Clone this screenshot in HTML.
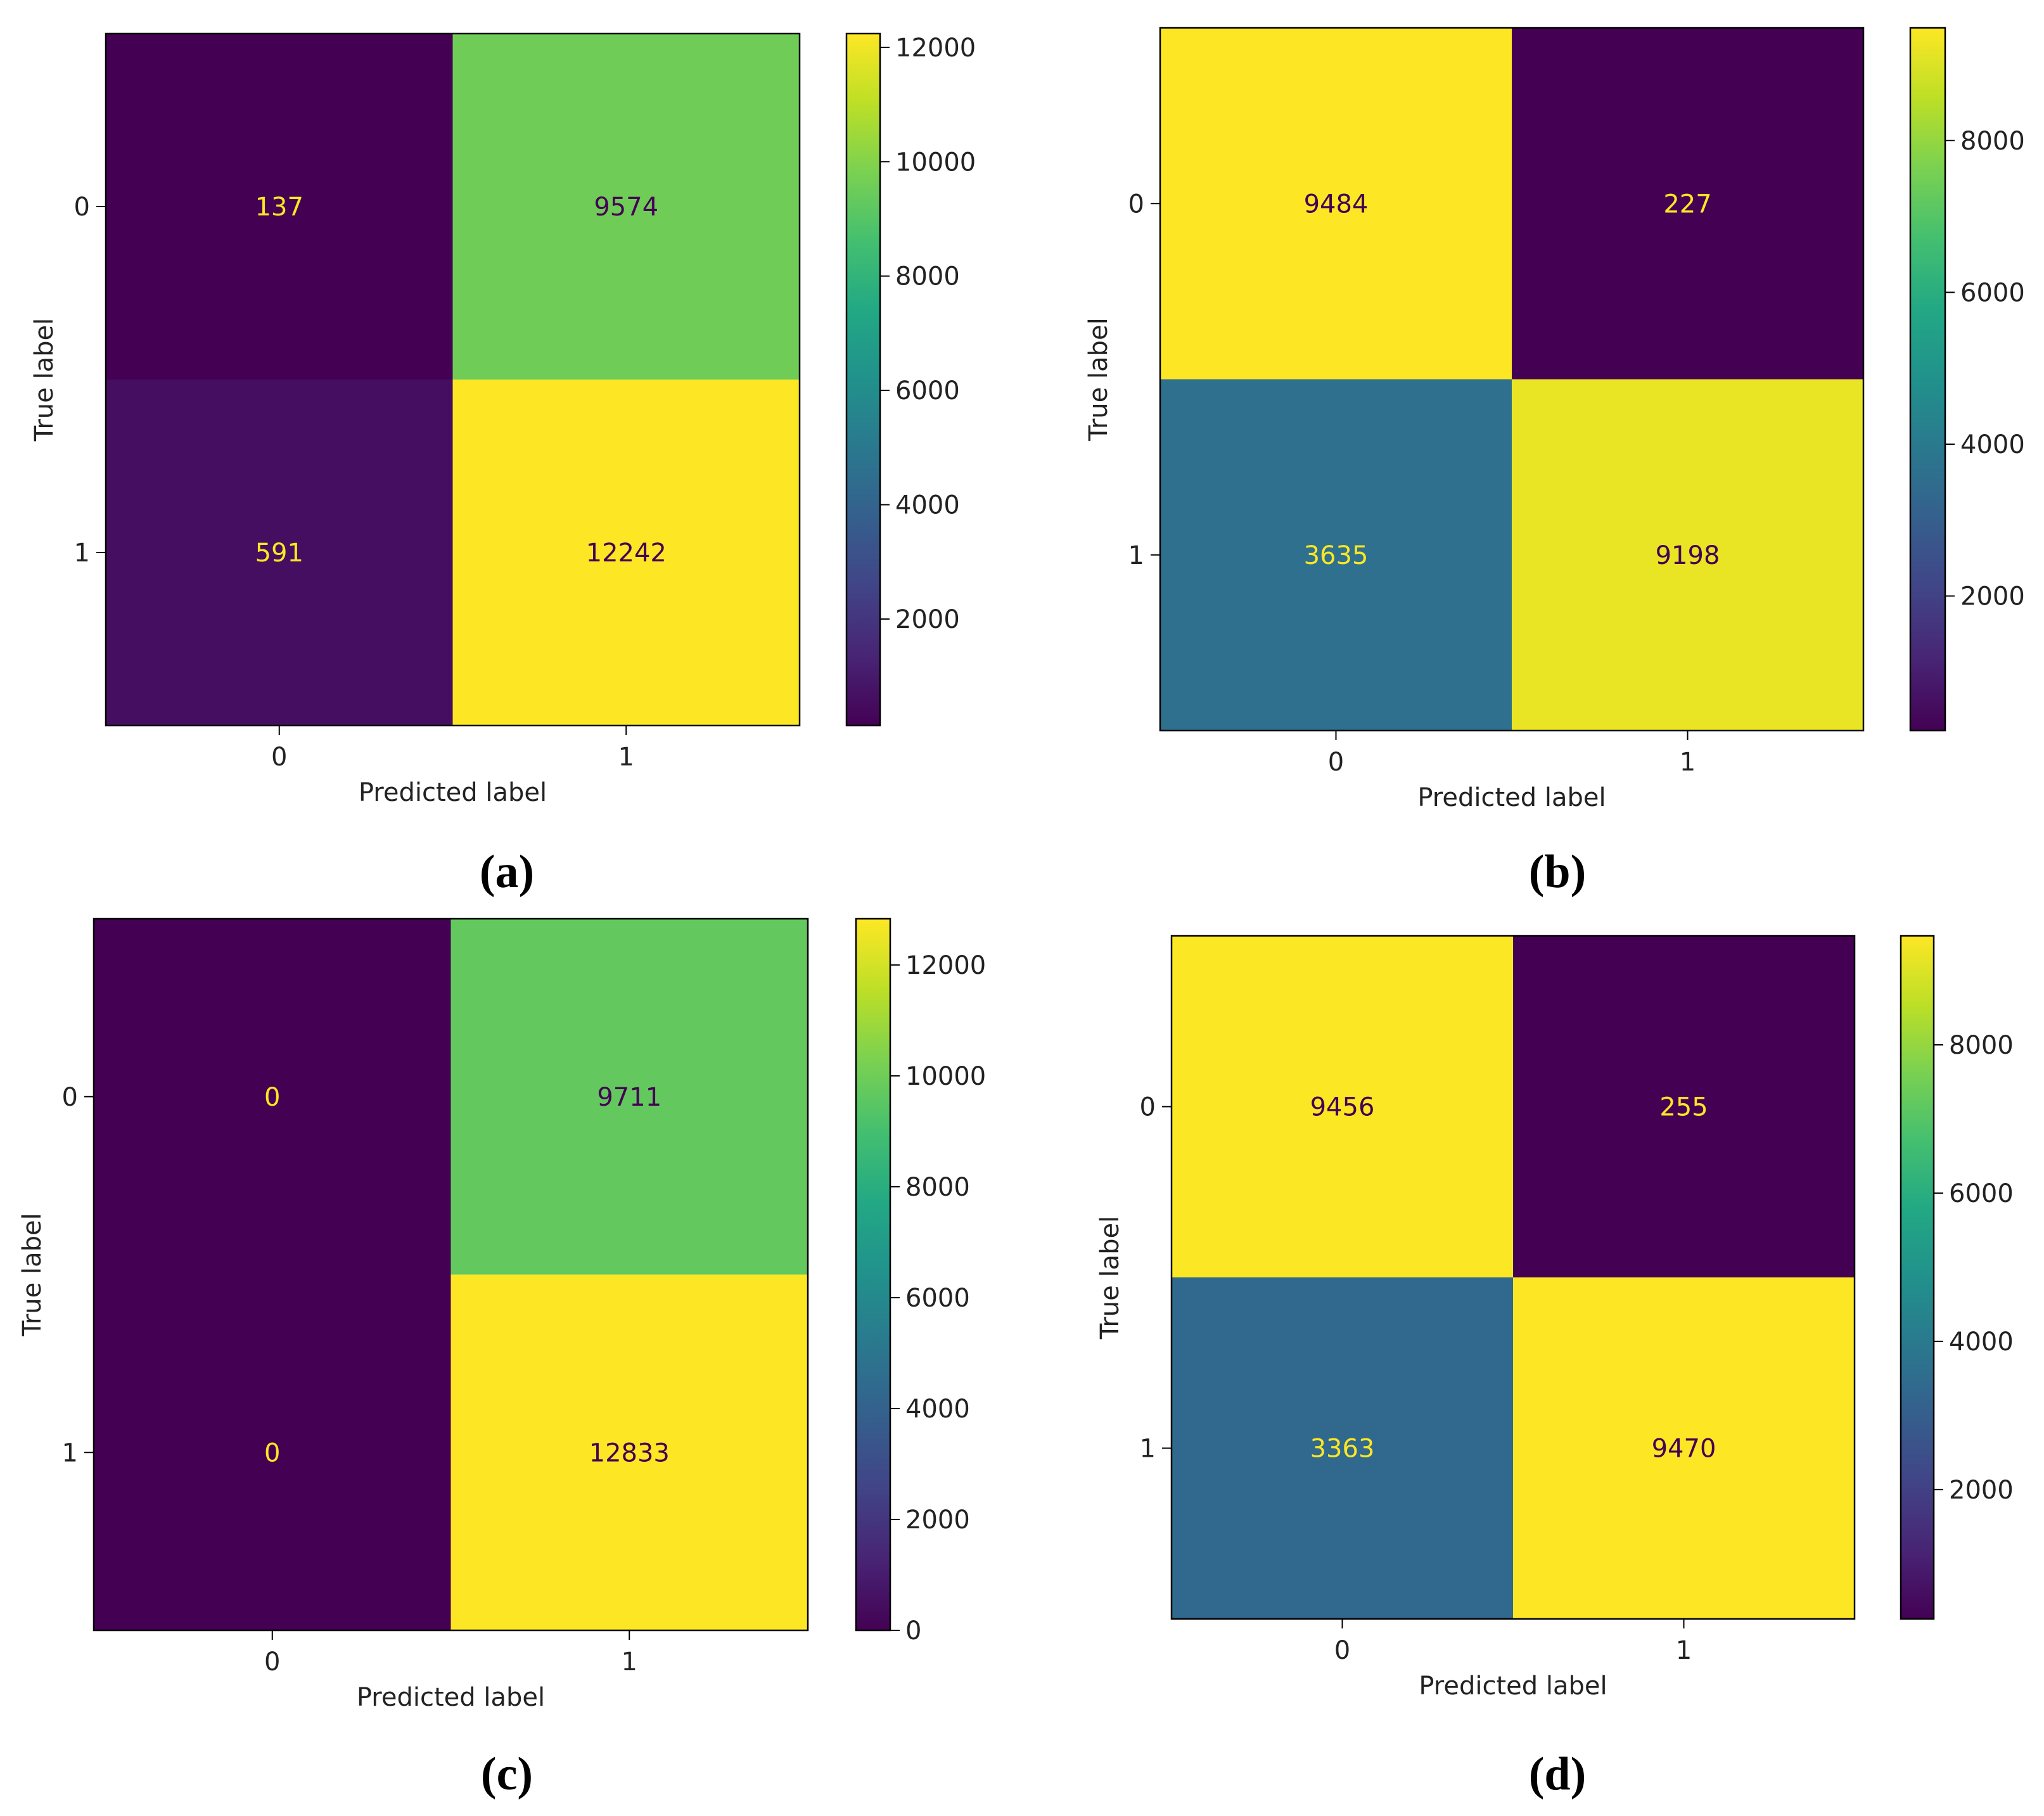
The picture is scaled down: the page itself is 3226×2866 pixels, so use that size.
<!DOCTYPE html>
<html><head><meta charset="utf-8">
<style>
html,body{margin:0;padding:0;background:#fff;}
svg{display:block;}
text{font-family:"DejaVu Sans","Liberation Sans",sans-serif;}
</style></head>
<body>
<svg id="fig" width="3226" height="2866" viewBox="0 0 3226 2866" xmlns="http://www.w3.org/2000/svg">
<defs>
<linearGradient id="viridis" x1="0" y1="1" x2="0" y2="0">
<stop offset="0" stop-color="#440154"/><stop offset="0.1" stop-color="#482475"/>
<stop offset="0.2" stop-color="#414487"/><stop offset="0.3" stop-color="#355f8d"/>
<stop offset="0.4" stop-color="#2a788e"/><stop offset="0.5" stop-color="#21918c"/>
<stop offset="0.6" stop-color="#22a884"/><stop offset="0.7" stop-color="#44bf70"/>
<stop offset="0.8" stop-color="#7ad151"/><stop offset="0.9" stop-color="#bddf26"/>
<stop offset="1" stop-color="#fde725"/>
</linearGradient>
</defs>
</svg>
<script>
// data: confusion matrices [TN, FP, FN, TP] row-major (true 0 row, true 1 row)
const classLabels = ["0", "1"];
const panelCaptions = ["(a)", "(b)", "(c)", "(d)"];
const matrixA = [137, 9574, 591, 12242];
const matrixB = [9484, 227, 3635, 9198];
const matrixC = [0, 9711, 0, 12833];
const matrixD = [9456, 255, 3363, 9470];
const ticksA = [2000, 4000, 6000, 8000, 10000, 12000];
const ticksB = [2000, 4000, 6000, 8000];
const ticksC = [0, 2000, 4000, 6000, 8000, 10000, 12000];
const ticksD = [2000, 4000, 6000, 8000];

const matrices = [matrixA, matrixB, matrixC, matrixD];
const tickSets = [ticksA, ticksB, ticksC, ticksD];
const geom = [
  {l:167,r:1262,t:53,b:1145,cl:1336,cr:1389,cx:800,cy:1376},
  {l:1831,r:2941,t:44,b:1153,cl:3015,cr:3070,cx:2458,cy:1376},
  {l:148,r:1275,t:1450,b:2573,cl:1351,cr:1405,cx:800,cy:2800},
  {l:1849,r:2927,t:1477,b:2555,cl:3000,cr:3052,cx:2458,cy:2800}
];
const stops = ["#440154","#482475","#414487","#355f8d","#2a788e","#21918c","#22a884","#44bf70","#7ad151","#bddf26","#fde725"];
function hex(h){return [1,3,5].map(i=>parseInt(h.substr(i,2),16));}
function viridis(t){
  t=Math.max(0,Math.min(1,t));
  const f=t*10, i=Math.min(9,Math.floor(f)), u=f-i;
  const a=hex(stops[i]), b=hex(stops[i+1]);
  return "rgb("+a.map((v,k)=>Math.round(v+(b[k]-v)*u)).join(",")+")";
}
const NS="http://www.w3.org/2000/svg";
const svg=document.getElementById("fig");
function mk(tag, attrs, parent){
  const e=document.createElementNS(NS,tag);
  for(const k in attrs) e.setAttribute(k,attrs[k]);
  (parent||svg).appendChild(e); return e;
}
const FS=40;
matrices.forEach((m,p)=>{
  const g=geom[p];
  const vmin=Math.min(...m), vmax=Math.max(...m);
  const grp=mk("g",{});
  
  
  const cw=(g.r-g.l)/2, ch=(g.b-g.t)/2;
  const xs=i=>g.l+cw*(i+0.5), ys=i=>g.t+ch*(i+0.5);
  for(let r=0;r<2;r++)for(let c=0;c<2;c++){
    const v=m[r*2+c];
    const t=(v-vmin)/(vmax-vmin);
    const cell=mk("rect",{x:g.l+cw*c,y:g.t+ch*r,width:cw+0.5,height:ch+0.5,fill:viridis(t)},grp);
    
    
    const tx=mk("text",{x:xs(c),y:ys(r)+14,"text-anchor":"middle","font-size":FS,fill:(v<(vmin+vmax)/2)?"#fde725":"#440154"},grp);
    tx.textContent=v;
    
    
  }
  mk("rect",{x:g.l,y:g.t,width:g.r-g.l,height:g.b-g.t,fill:"none",stroke:"#000","stroke-width":2.5},grp);
  classLabels.forEach((lab,i)=>{
    mk("line",{x1:xs(i),x2:xs(i),y1:g.b,y2:g.b+15,stroke:"#000","stroke-width":2},grp);
    const xt=mk("text",{x:xs(i),y:g.b+63,"text-anchor":"middle","font-size":FS,fill:"#222"},grp);
    xt.textContent=lab;
    
    
    mk("line",{x1:g.l-15,x2:g.l,y1:ys(i),y2:ys(i),stroke:"#000","stroke-width":2},grp);
    const yt=mk("text",{x:g.l-25,y:ys(i)+14,"text-anchor":"end","font-size":FS,fill:"#222"},grp);
    yt.textContent=lab;
    
    
  });
  const xl=mk("text",{x:(g.l+g.r)/2,y:g.b+119,"text-anchor":"middle","font-size":FS,fill:"#222"},grp);
  xl.textContent="Predicted label";
  
  
  const yy=(g.t+g.b)/2, yx=g.l-84;
  const yl=mk("text",{x:yx,y:yy,"text-anchor":"middle","font-size":FS,fill:"#222",transform:"rotate(-90 "+yx+" "+yy+")"},grp);
  yl.textContent="True label";
  
  
  const cb=mk("rect",{x:g.cl,y:g.t,width:g.cr-g.cl,height:g.b-g.t,fill:"url(#viridis)",stroke:"#000","stroke-width":2.5},grp);
  
  
  const cy=v=>g.b-(v-vmin)/(vmax-vmin)*(g.b-g.t);
  tickSets[p].forEach(v=>{
    const y=cy(v);
    mk("line",{x1:g.cr,x2:g.cr+15,y1:y,y2:y,stroke:"#000","stroke-width":2},grp);
    const ct=mk("text",{x:g.cr+24,y:y+14,"font-size":FS,fill:"#222"},grp);
    ct.textContent=v;
    
    
  });
  const cap=mk("text",{x:g.cx,y:g.cy+24,"text-anchor":"middle","font-size":74,"font-weight":"bold",fill:"#000",style:"font-family:'Liberation Serif',serif"},grp);
  cap.textContent=panelCaptions[p];
  
  
});
</script>
</body></html>
